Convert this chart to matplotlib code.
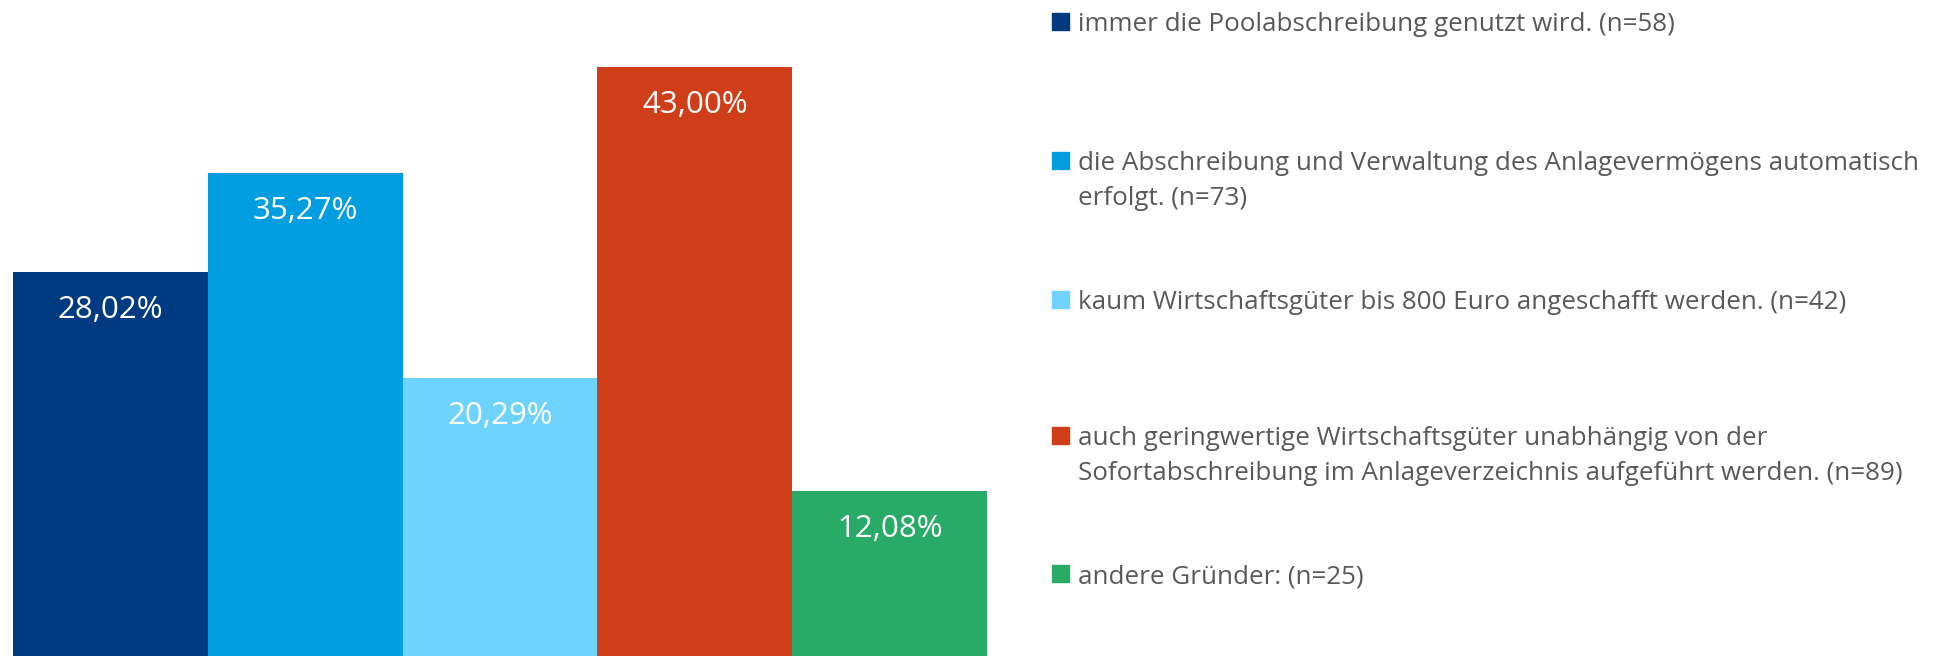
import matplotlib
matplotlib.use('Agg')
import matplotlib.pyplot as plt
from matplotlib.patches import Rectangle

labels = ['immer die Poolabschreibung genutzt wird. (n=58)',
          'die Abschreibung und Verwaltung des Anlagevermögens automatisch\nerfolgt. (n=73)',
          'kaum Wirtschaftsgüter bis 800 Euro angeschafft werden. (n=42)',
          'auch geringwertige Wirtschaftsgüter unabhängig von der\nSofortabschreibung im Anlageverzeichnis aufgeführt werden. (n=89)',
          'andere Gründer: (n=25)']
values = [28.02, 35.27, 20.29, 43.00, 12.08]
colors = ['#003A80', '#009EE0', '#6ED4FF', '#D03E19', '#28AB66']

# legend layout: top of each marker in px from the top of the figure
legend_top = [13, 152, 291, 427, 565]

plt.rcParams['font.family'] = ['Open Sans', 'DejaVu Sans']

W, H = 1944, 656
fig = plt.figure(figsize=(W / 100, H / 100), dpi=100)
ax = fig.add_axes([13 / W, 0, 974 / W, 1])
x = range(len(values))
ax.bar(x, values, width=1.0, color=colors)
ax.set_xlim(-0.5, len(values) - 0.5)
ax.set_ylim(0, 47.9)
ax.axis('off')

for i, v in enumerate(values):
    lbl = '{:.2f}%'.format(v).replace('.', ',')
    ax.annotate(lbl, (i, v), xytext=(0, -27.5), textcoords='offset points',
                ha='center', va='center', color='white', fontsize=22.5)

for lab, c, top in zip(labels, colors, legend_top):
    fig.patches.append(Rectangle((1052 / W, 1 - (top + 17) / H), 17 / W, 17 / H,
                                 transform=fig.transFigure, color=c))
    for k, line in enumerate(lab.split('\n')):
        base = top + 18 + 35 * k
        fig.text(1078 / W, 1 - base / H, line, ha='left', va='baseline',
                 color='#595959', fontsize=18.7)

fig.savefig('out.png', dpi=100)
